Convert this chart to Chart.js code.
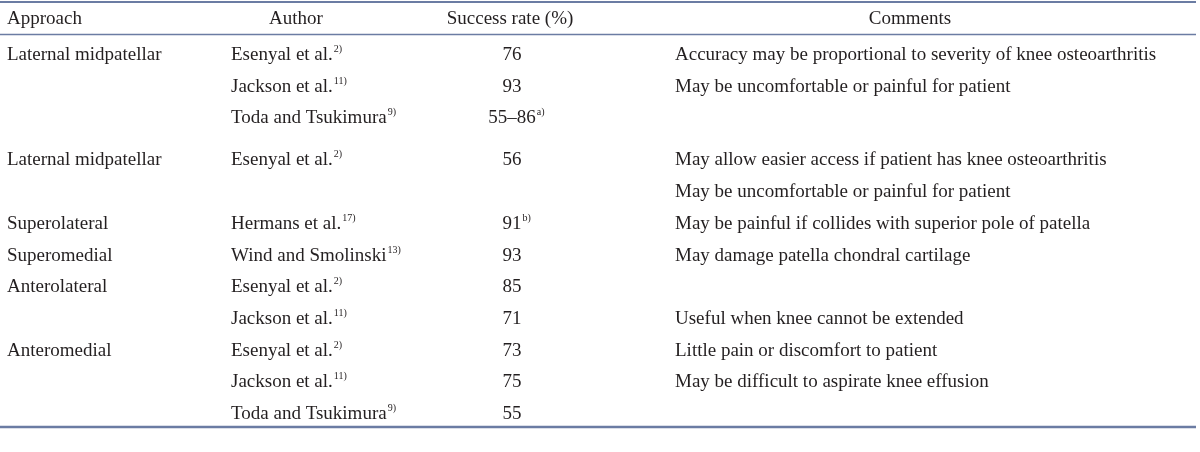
<!DOCTYPE html>
<html>
<head>
<meta charset="utf-8">
<script src="https://cdn.jsdelivr.net/npm/chart.js@4"></script>
<style>
  html, body { margin: 0; padding: 0; background: #fff; }
  #wrap { width: 1200px; height: 452px; }
</style>
</head>
<body>
<div id="wrap"><canvas id="tableChart"></canvas></div>
<script>
// Table content
const headers = ['Approach', 'Author', 'Success rate (%)', 'Comments'];
const approaches = ['Laternal midpatellar', '', '', 'Laternal midpatellar', '', 'Superolateral', 'Superomedial', 'Anterolateral', '', 'Anteromedial', '', ''];
const authors = ['Esenyal et al.', 'Jackson et al.', 'Toda and Tsukimura', 'Esenyal et al.', '', 'Hermans et al.', 'Wind and Smolinski', 'Esenyal et al.', 'Jackson et al.', 'Esenyal et al.', 'Jackson et al.', 'Toda and Tsukimura'];
const authorRefs = ['2)', '11)', '9)', '2)', '', '17)', '13)', '2)', '11)', '2)', '11)', '9)'];
const successRates = ['76', '93', '55–86', '56', '', '91', '93', '85', '71', '73', '75', '55'];
const successNotes = ['', '', 'a)', '', '', 'b)', '', '', '', '', '', ''];
const comments = [
    'Accuracy may be proportional to severity of knee osteoarthritis',
    'May be uncomfortable or painful for patient',
    '',
    'May allow easier access if patient has knee osteoarthritis',
    'May be uncomfortable or painful for patient',
    'May be painful if collides with superior pole of patella',
    'May damage patella chondral cartilage',
    '',
    'Useful when knee cannot be extended',
    'Little pain or discomfort to patient',
    'May be difficult to aspirate knee effusion',
    ''
];

const FONT = '"Liberation Serif", "Times New Roman", serif';
const MAIN_SIZE = '19px ';
const SUP_SIZE = '10px ';
const TEXT_COLOR = '#231f20';
const RULE_COLOR = '#6b7ca3';

// extra space before the second group of rows
const GROUP_GAP = 0.33;
function rowValue(i) {
    return i + (i >= 3 ? GROUP_GAP : 0);
}

// draw text with an optional superscript after it
function drawWithSup(ctx, text, sup, x, y, align) {
    ctx.font = MAIN_SIZE + FONT;
    const w = ctx.measureText(text).width;
    ctx.font = SUP_SIZE + FONT;
    const sw = sup ? ctx.measureText(sup).width + 1 : 0;
    let left = x;
    if (align === 'center') left = x - (w + sw) / 2;
    ctx.textAlign = 'left';
    ctx.font = MAIN_SIZE + FONT;
    ctx.fillText(text, left, y);
    if (sup) {
        ctx.font = SUP_SIZE + FONT;
        ctx.fillText(sup, left + w + 1, y - 8);
    }
}

const tablePlugin = {
    id: 'tableDraw',
    afterDraw(chart, args, opts) {
        const ctx = chart.ctx;
        const area = chart.chartArea;
        const xs = chart.scales.x;
        const ys = chart.scales.y;
        const left = xs.getPixelForValue(xs.min);
        const right = xs.getPixelForValue(xs.max);

        ctx.save();
        // rules
        ctx.strokeStyle = RULE_COLOR;
        ctx.lineWidth = 2;
        ctx.beginPath();
        ctx.moveTo(left, 2);
        ctx.lineTo(right, 2);
        ctx.stroke();
        ctx.lineWidth = 1.5;
        ctx.beginPath();
        ctx.moveTo(left, area.top - 2.5);
        ctx.lineTo(right, area.top - 2.5);
        ctx.stroke();
        ctx.lineWidth = 2.5;
        ctx.beginPath();
        ctx.moveTo(left, area.bottom - 1);
        ctx.lineTo(right, area.bottom - 1);
        ctx.stroke();

        ctx.fillStyle = TEXT_COLOR;
        ctx.textBaseline = 'alphabetic';
        const cols = opts.columns;
        const hx = opts.headerX;

        // header row
        const hy = area.top - 13;
        drawWithSup(ctx, headers[0], '', xs.getPixelForValue(hx[0]), hy, 'left');
        drawWithSup(ctx, headers[1], '', xs.getPixelForValue(hx[1]), hy, 'center');
        drawWithSup(ctx, headers[2], '', xs.getPixelForValue(hx[2]), hy, 'center');
        drawWithSup(ctx, headers[3], '', xs.getPixelForValue(hx[3]), hy, 'center');

        // body rows
        approaches.forEach((a, i) => {
            const y = ys.getPixelForValue(rowValue(i)) + 7;
            if (a) drawWithSup(ctx, a, '', xs.getPixelForValue(cols[0]), y, 'left');
            if (authors[i]) drawWithSup(ctx, authors[i], authorRefs[i], xs.getPixelForValue(cols[1]), y, 'left');
            if (successRates[i]) {
                // number stays centred; note hangs to the right
                ctx.font = MAIN_SIZE + FONT;
                const w = ctx.measureText(successRates[i]).width;
                const cx = xs.getPixelForValue(cols[2]);
                drawWithSup(ctx, successRates[i], successNotes[i], cx - w / 2, y, 'left');
            }
            if (comments[i]) drawWithSup(ctx, comments[i], '', xs.getPixelForValue(cols[3]), y, 'left');
        });
        ctx.restore();
    }
};

const ctx = document.getElementById('tableChart').getContext('2d');
const tableChart = new Chart(ctx, {
    type: 'scatter',
    data: {
        datasets: [{
            data: successRates.map((s, i) => ({ x: 512, y: rowValue(i) })),
            pointRadius: 0,
            pointHoverRadius: 0
        }]
    },
    options: {
        responsive: true,
        maintainAspectRatio: false,
        animation: false,
        events: [],
        layout: {
            padding: { top: 37, bottom: 24, left: 0, right: 4 }
        },
        scales: {
            x: { type: 'linear', min: 0, max: 1196, display: false },
            y: { type: 'linear', min: -0.5, max: 11.5 + GROUP_GAP, reverse: true, display: false }
        },
        plugins: {
            legend: { display: false },
            tooltip: { enabled: false },
            tableDraw: {
                columns: [7, 231, 512, 675],
                headerX: [7, 296, 510, 910]
            }
        }
    },
    plugins: [tablePlugin]
});
</script>
</body>
</html>
